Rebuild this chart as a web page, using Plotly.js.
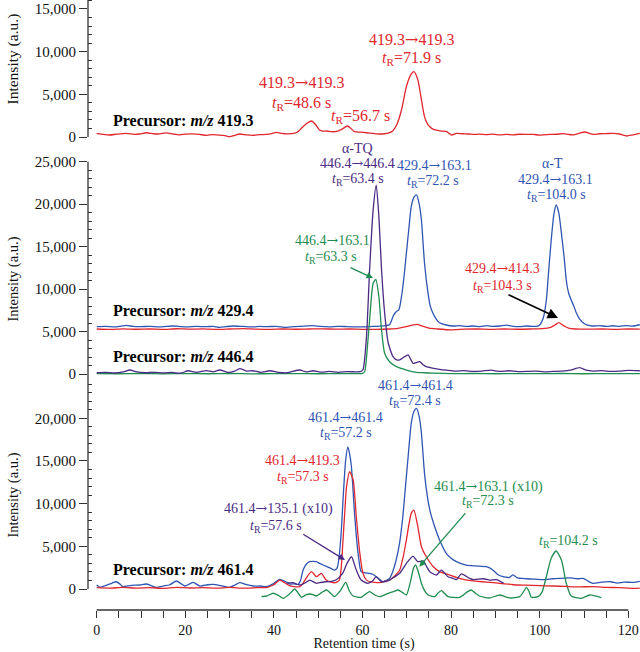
<!DOCTYPE html>
<html><head><meta charset="utf-8">
<script src="https://cdn.plot.ly/plotly-3.0.1.min.js"></script>
<style>html,body{margin:0;padding:0;background:#fff}#chart{width:640px;height:652px}</style>
</head><body><div id="chart"></div>
<script>
// ---------- data (retention time s, intensity a.u.) ----------
// Top panel: precursor m/z 419.3
const t419_419 = [0,1.5,2.9,4.5,6.7,8.5,9.7,11.2,12.8,14.2,15.7,17.2,18.7,20.2,21.7,23.2,24.8,26.2,27.7,29,30,31.2,32.3,33.8,35.3,36.8,38.3,39.5,40.6,41.8,42.8,44,44.7,45.5,46.2,47.3,48.5,49.5,50.3,51.1,51.9,53,54.1,55.3,56.6,57.4,58.2,59.5,60.9,62.4,63.9,65,65.8,66.8,67.7,68.8,69.9,70.8,71.6,72.5,73.3,74,74.6,75.2,76,76.7,77.8,78.9,80.1,81.2,82.5,84,85,86.5,88,89.5,91,92.5,94,95.5,97,98.5,100,100.8,102.3,103.8,105.3,106.5,107.6,109,110.2,111.2,112.1,113.5,115,116.6,118,119.6,120.3,121.1,122.6];
const y419_419 = [430,300,234,330,420,300,350,500,380,360,480,350,250,340,360,300,200,280,230,150,40,200,350,250,200,280,300,400,550,420,360,400,450,650,1020,1550,1875,1400,820,700,700,620,650,900,1290,1000,620,560,500,420,350,380,450,700,1400,3160,5900,7200,7650,6680,4340,2380,1600,1210,900,800,700,650,234,420,380,350,300,330,280,330,250,300,260,320,300,300,220,250,300,320,400,300,250,450,586,420,300,380,400,430,350,117,200,250,430];

// Middle panel: precursors m/z 429.4 and 446.4
const t429_163 = [0,2,4.4,6.7,8.2,9.7,12,14.2,15.8,17.3,19,20.4,22.5,24.8,26.3,27.7,29.2,30.8,33,35.3,36.8,38.3,40.5,42.8,44.5,46.2,48.8,50.5,52.5,54.5,56.5,58.5,60.5,62.5,64,65.2,66.1,67,67.6,68.2,68.8,69.4,69.9,70.5,71,71.6,72.2,72.8,73.3,74,74.8,75.3,75.9,76.6,77.4,78.9,80.5,82,83.5,85,86.5,88,89.5,91,92.5,94,95.5,97,98.5,99.5,100,100.8,101.5,102,102.6,103.2,103.7,104.3,104.9,105.5,106,106.5,107.1,107.7,108.3,109,109.8,110.8,112,113.5,115,116.5,118,119.5,121,122.6];
const y429_163 = [5570,5600,5540,5730,5600,5570,5620,5540,5620,5650,5580,5540,5600,5570,5620,5500,5580,5650,5600,5540,5600,5570,5620,5500,5580,5620,5690,5600,5560,5620,5580,5550,5560,5600,5640,5700,5800,6900,7340,7540,9100,11600,14210,17300,19700,20800,21080,20000,18140,13040,9500,8000,7150,6500,6040,5770,5650,5700,5600,5650,5580,5700,5600,5650,5750,5620,5580,5650,5600,5650,5770,6600,8710,12000,15780,18800,19900,19000,16570,13800,11070,9600,8710,8000,7150,6500,6040,5750,5650,5700,5600,5680,5620,5700,5650,5800];

const t429_414 = [0,3,6,9,12,15,18,21,24,27,30,33,36,39,42,45,48,51,54,57,60,63,66,68,70,72.2,73.5,75,77,80,83,86,89,92,95,98,100.5,102.5,103.5,104.3,105.2,106.5,108,111,114,117,120,122.6];
const y429_414 = [5300,5250,5320,5270,5300,5260,5330,5280,5310,5250,5300,5350,5280,5250,5300,5270,5300,5320,5280,5300,5260,5250,5300,5380,5600,5850,5650,5400,5300,5200,5280,5300,5250,5300,5270,5300,5350,5500,5800,6040,5750,5400,5300,5280,5300,5250,5300,5280];

const t446_446 = [0,2,4,6,7.5,9,11,13,15,17,19,20.6,22.5,24.8,26.3,27.8,29.5,31,32.3,33.8,35.3,37,39.1,41,43,45.8,47.3,48.8,50.5,52.5,54.5,56.5,58.5,59.5,60.1,60.9,61.6,62.4,63.1,63.7,64.3,65,65.8,66.9,67.6,68.4,69.4,70.3,70.9,71.4,72.1,72.9,73.7,74.4,75.8,77.4,79,81,83,85,87,89,91,93,95,97,99,101,103,105,107,109,110.5,112,114,116,118,120,122.6];
const y446_446 = [150,200,120,250,470,250,150,200,120,180,100,380,200,400,250,470,200,300,630,350,380,200,380,200,150,470,250,380,220,300,200,280,250,270,500,4390,12250,19300,22250,18500,12250,7180,3650,2040,1700,1650,2000,2240,1700,1260,1350,1450,1100,860,700,550,450,350,400,300,350,450,300,380,280,300,350,250,300,330,450,740,450,350,400,300,350,420,380];

const t446_163 = [0,5,10,15,20,25,30,35,40,45,50,55,58,60,60.5,61,61.6,62.4,63,63.7,64.3,65,66.1,67.7,69.9,72.2,74,76,80,85,90,95,100,105,110,115,120,122.6];
const y446_163 = [50,30,60,20,50,30,60,20,40,50,30,40,50,80,300,2500,6360,10680,11150,9100,5180,2440,1450,860,470,200,150,100,50,60,30,50,40,60,30,50,40,50];

// Bottom panel: precursor m/z 461.4
const t461_461 = [0,0.7,2,3.5,4.4,5.2,5.9,7.5,8.5,9.7,11.2,12.3,13.5,15,16.5,18,19.1,19.9,21,21.8,23.3,25,26.3,28,30,31.3,32.3,33.8,35.3,37,38.3,39.8,41.3,42.5,43.6,44.5,45.5,46,46.6,47.3,48.1,49.6,50.3,51.1,52.5,53.7,54.3,54.8,55.3,55.6,56.2,56.7,57.1,57.5,58.2,59,59.7,60.5,61.6,62.4,63.1,63.9,64.6,65.3,66.1,66.8,67.6,68.4,69.1,69.7,70.3,71,71.6,72.2,72.8,73.3,74,74.6,75.2,76.3,77.4,78.9,80,81.2,83.4,85.5,88,89.5,90.5,91.7,93.2,94,95,97,99,101,103,105,107,108.5,109.8,111,112,114,116,117.5,119,121,122.6];
const y461_461 = [470,200,400,700,850,600,270,400,450,470,585,400,200,350,500,940,600,350,600,780,350,500,550,400,200,500,740,500,350,350,270,600,1130,900,585,600,550,1000,2220,2900,3200,3200,3000,2810,2500,2220,2500,4180,7500,10420,15100,16660,15800,14320,8860,4180,2030,1900,1840,1700,1440,1100,850,1000,1250,2000,3400,5500,8470,12000,15490,19400,20800,21160,20200,18230,13550,11000,9250,7290,5740,4180,3600,3200,2810,2700,2610,2200,1700,1440,1370,1650,1300,1200,1150,1100,1200,1250,1300,1200,1250,900,670,800,850,700,800,785,900];

const t461_419 = [0,3,6,9,12,15,18,21,24,27,30,33,36,38.5,40,41.3,42.5,43.5,45,45.8,46.5,47,48.5,49.6,50.7,51.8,53.3,54.2,54.8,55.2,55.6,56,56.4,57.1,57.9,58.6,59.4,60.1,60.8,61.6,63.9,65,66.1,67.2,68.4,69.2,69.9,71,71.6,72.5,73.3,74.4,76,77.4,79.7,81.9,84,86,88,91,94,97,100,103,106,109,112,115,118,121,122.6];
const y461_419 = [150,100,200,100,150,80,200,120,150,100,180,100,150,200,500,1050,700,400,250,270,600,1050,2030,1440,1840,1050,740,800,1050,2500,5740,9000,11980,13740,12760,8470,4180,1840,1100,850,740,900,1050,1500,2220,3800,5740,8860,9250,7290,4950,3780,2610,2030,1640,1250,1000,900,800,670,500,450,400,350,300,250,280,200,150,80,100];

const t461_135 = [43,44.3,45.8,47,48.1,49.6,50.3,51.8,53,54,55.5,56.5,57.5,58.6,59.7,61.2,62.2,63.1,64.3,66.1,67.2,68.4,69.9,70.7,71.4,72.5,73.7,74.5,75.2,76.7,77.8,79.3,80.4,81.2,82.3,84.2,85,87.3,88.7,90.2,91.9];
const y461_135 = [700,740,470,700,1050,670,750,850,900,1050,1840,3000,3780,2220,1050,670,900,1440,850,1050,1400,1840,3000,3500,3860,3200,3300,2600,2030,1640,2220,1440,1250,1100,1760,1250,1100,1200,1050,1100,670];

const t461_163 = [37.2,38.5,39.8,41,42.1,43.5,44.7,45.5,46.2,47.2,48.1,48.8,49.6,50.8,51.9,52.8,53.7,55,56.2,57,57.9,59.7,60.7,61.6,62.8,63.9,65.8,67,68,69,69.9,70.8,71.5,72,72.6,73.3,74,74.8,76.3,77,77.8,78.5,79.3,81.9,83.5,84.5,85.5,86.4,88.7,91,93.2,95.5,96.5,97,97.6,98.1,99.6,100.5,101.5,102.6,103.7,104.9,106,107.1,109.4,111.3,113.9];
const y461_163 = [-900,-800,-500,-750,-1090,-600,0,-500,-970,-700,-585,-650,-820,-400,-117,-500,-900,-200,780,-200,-820,-970,-600,-310,-700,-900,-500,-300,-117,-400,-700,800,2400,2810,2000,670,-200,-700,-900,-500,-200,-500,-900,-970,-400,-117,-500,-820,-1050,-700,-1050,-900,-200,200,-300,-970,-900,-400,1440,3600,4450,3400,670,-820,-1090,-700,-1020];

const xTickStep = 20, xMinorStep = 5;
const yMajor = [0,5000,10000,15000,20000,25000];

// ---------- styling ----------
const RED='#e1262e', BLUE='#2f55b2', PURPLE='#4a2a84', GREEN='#1f8d4f', AX='#333333';
const FONT='"Liberation Serif","Times New Roman",Times,serif';
const W=640, H=652, ML=88, MB=42, PW=W-ML, PH=H-MB;
const px = x => (x-ML)/PW;
const py = y => (PH-y)/PH;

function tr(x,y,color,ya){
  return {x:x,y:y,type:'scatter',mode:'lines',yaxis:ya,xaxis:'x',
    line:{color:color,width:1.3,shape:'spline',smoothing:0.6},hoverinfo:'skip',showlegend:false};
}
const data = [
  tr(t419_419,y419_419,RED,'y'),
  tr(t429_414,y429_414,RED,'y2'),
  tr(t429_163,y429_163,BLUE,'y2'),
  tr(t446_163,y446_163,GREEN,'y2'),
  tr(t446_446,y446_446,PURPLE,'y2'),
  tr(t461_461,y461_461,BLUE,'y3'),
  tr(t461_163,y461_163,GREEN,'y3'),
  tr(t461_419,y461_419,RED,'y3'),
  tr(t461_135,y461_135,PURPLE,'y3')
];

function minorVals(top){const v=[];for(let k=1000;k<=top;k+=1000){if(k%5000)v.push(k);}return v;}
function yax(domain,range,majors,top){
  return {domain:domain,range:range,anchor:'x',showline:false,showgrid:false,zeroline:false,
    tickmode:'array',tickvals:majors,tickformat:',',ticks:'outside',ticklen:8,tickwidth:1,tickcolor:AX,
    tickfont:{family:FONT,size:15,color:'#111'},
    minor:{tickmode:'array',tickvals:minorVals(top),ticks:'inside',ticklen:4,tickwidth:1,tickcolor:AX}};
}
const TOPR=[-469,16054], MIDR=[-471,26378], BOTR=[-2460,25190];

const ann=[];
const ARW='<span style="font-family:\'DejaVu Serif\'">→</span>';
const mrm = (a,b) => a+ARW+b;
function lab(text,x,y,color,size,xa){
  ann.push({text:text,x:px(x),y:py(y),xref:'paper',yref:'paper',xanchor:xa||'center',yanchor:'middle',
    showarrow:false,font:{family:FONT,size:size,color:color}});
}
function arrow(x0,y0,x1,y1,color,size,width){
  ann.push({text:'',x:px(x1),y:py(y1),xref:'paper',yref:'paper',ax:x0-x1,ay:y0-y1,showarrow:true,
    arrowhead:2,arrowsize:size,arrowwidth:width,arrowcolor:color});
}
const tR = v => '<i>t</i><sub>R</sub>='+v+' s';
// top
lab(mrm('419.3','419.3'),301.7,83,RED,16); lab(tR('48.6'),301.7,103,RED,16);
lab(tR('56.7'),360,116.7,RED,16);
lab(mrm('419.3','419.3'),411.7,40,RED,16); lab(tR('71.9'),411.7,58,RED,16);
lab('<b>Precursor: <i>m/z</i> 419.3</b>',111,121,'#000',16,'left');
// middle
lab('α-TQ',357,148,PURPLE,14); lab(mrm('446.4','446.4'),357.5,163,PURPLE,14); lab(tR('63.4'),357.5,179,PURPLE,14);
lab(mrm('429.4','163.1'),434,165,BLUE,14); lab(tR('72.2'),433,182,BLUE,14);
lab('α-T',552,163,BLUE,14); lab(mrm('429.4','163.1'),555,179,BLUE,14); lab(tR('104.0'),556,195,BLUE,14);
lab(mrm('446.4','163.1'),332,240,GREEN,14); lab(tR('63.3'),331,257,GREEN,14);
arrow(349,267,373,278,GREEN,1,1.3);
lab(mrm('429.4','414.3'),502.5,268,RED,14); lab(tR('104.3'),502.5,286,RED,14);
arrow(507,294,558,318,'#000',1.3,1.6);
lab('<b>Precursor: <i>m/z</i> 429.4</b>',111,310,'#000',16,'left');
lab('<b>Precursor: <i>m/z</i> 446.4</b>',111,356,'#000',16,'left');
// bottom
lab(mrm('461.4','461.4'),415.8,385,BLUE,14); lab(tR('72.4'),415,401,BLUE,14);
lab(mrm('461.4','461.4'),345.8,416.7,BLUE,14); lab(tR('57.2'),345.8,433,BLUE,14);
lab(mrm('461.4','419.3'),302.5,460,RED,14); lab(tR('57.3'),302.5,477.5,RED,14);
lab(mrm('461.4','135.1 (x10)'),278.3,508.3,PURPLE,14); lab(tR('57.6'),276,526,PURPLE,14);
arrow(301.7,533.3,345,560,PURPLE,1,1.3);
lab(mrm('461.4','163.1 (x10)'),488.3,486.7,GREEN,14); lab(tR('72.3'),488.3,501.5,GREEN,14);
arrow(466.7,511.7,419.3,566.7,GREEN,1,1.3);
lab(tR('104.2'),568.3,541,GREEN,14);
lab('<b>Precursor: <i>m/z</i> 461.4</b>',111,569,'#000',16,'left');
// y titles
function ytitle(y,size){ann.push({text:'Intensity (a.u.)',textangle:-90,x:px(12.5),y:py(y),xref:'paper',yref:'paper',
  xanchor:'center',yanchor:'middle',showarrow:false,font:{family:FONT,size:size,color:'#111'}});}
ytitle(59,15.5); ytitle(279,14.5); ytitle(495,14.5);

const lineStyle={color:AX,width:1.3};
const shapes=[
  {type:'line',xref:'paper',yref:'y',x0:0,x1:0,y0:0,y1:TOPR[1],line:lineStyle},
  {type:'line',xref:'paper',yref:'y2',x0:0,x1:0,y0:0,y1:25000,line:lineStyle},
  {type:'line',xref:'paper',yref:'y3',x0:0,x1:0,y0:0,y1:BOTR[1],line:lineStyle},
  {type:'line',xref:'x',yref:'paper',x0:0,x1:120,y0:0,y1:0,line:lineStyle}
];

const layout={
  width:W,height:H,margin:{l:ML,r:0,t:0,b:MB},paper_bgcolor:'#fff',plot_bgcolor:'rgba(0,0,0,0)',
  font:{family:FONT,color:'#111'},showlegend:false,hovermode:false,
  xaxis:{domain:[0,1],range:[-1.964,122.64],anchor:'y3',showline:false,showgrid:false,zeroline:false,
    tickmode:'linear',tick0:0,dtick:xTickStep,ticks:'outside',ticklen:7,tickwidth:1,tickcolor:AX,
    tickfont:{family:FONT,size:14,color:'#111'},
    minor:{tick0:0,dtick:xMinorStep,ticks:'outside',ticklen:7,tickwidth:1,tickcolor:AX},
    title:{text:'Retention time (s)',font:{family:FONT,size:14,color:'#111'},standoff:0}},
  yaxis:yax([py(141),1],TOPR,yMajor.slice(0,4),16000),
  yaxis2:yax([py(378),py(150)],MIDR,yMajor,25000),
  yaxis3:yax([0,py(374)],BOTR,yMajor.slice(0,5),25000),
  annotations:ann,shapes:shapes
};
Plotly.newPlot('chart',data,layout,{displayModeBar:false,staticPlot:true});
</script></body></html>
